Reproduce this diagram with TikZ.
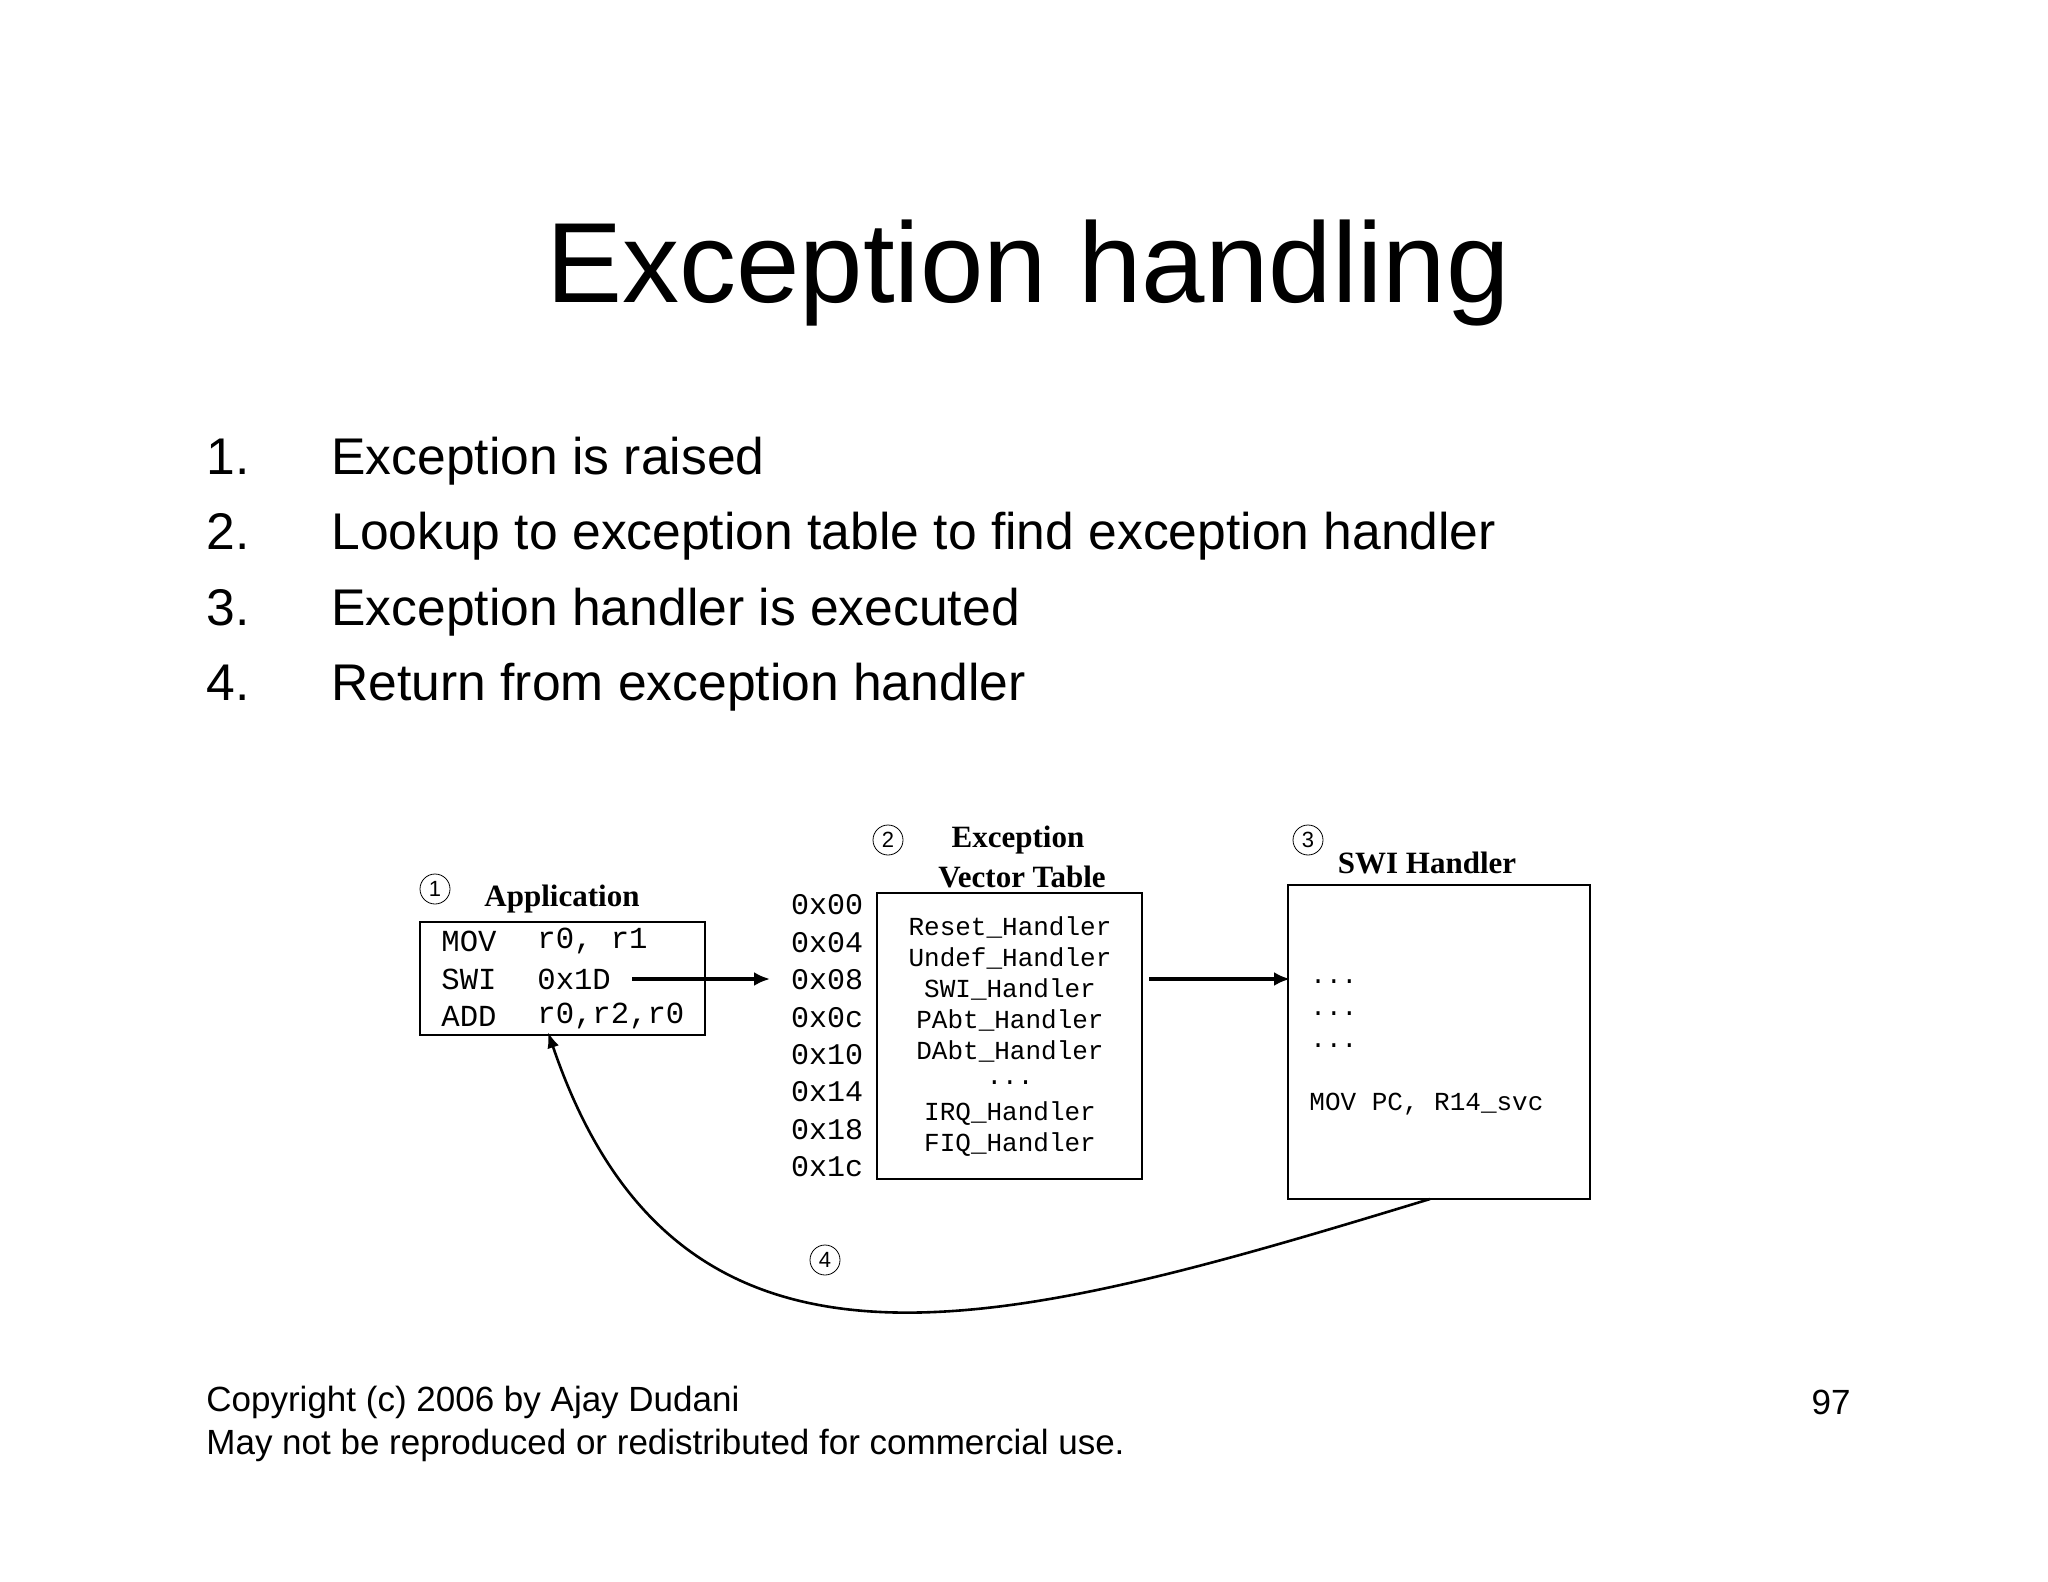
\documentclass[tikz,border=0pt]{standalone}
\usepackage{fontspec}
\setmainfont{Liberation Sans}
\newfontfamily\tms{Liberation Serif}
\newfontfamily\crr{Liberation Mono}
\usetikzlibrary{arrows.meta}
\begin{document}
\begin{tikzpicture}[x=0.5pt,y=-0.5pt,
  box/.style={draw,line width=1.2pt},
  lbl/.style={font=\tms\bfseries\fontsize{15.5}{17}\selectfont},
  code/.style={font=\crr\fontsize{15.3}{17}\selectfont,anchor=west,inner sep=0},
  small/.style={font=\crr\fontsize{13}{15}\selectfont,inner sep=0},
  num/.style={draw,circle,line width=0.4pt,inner sep=0,minimum size=15pt,font=\fontsize{11}{12}\selectfont},
  arr/.style={line width=1.8pt,-{Latex[length=8pt,width=7pt]}}]
\useasboundingbox (0,0) rectangle (2048,1582);
\node (title) at (1028,273) {\fontsize{57}{68}\selectfont Exception handling};
\foreach \n/\t [count=\i] in {1/Exception is raised,2/Lookup to exception table to find exception handler,3/Exception handler is executed,4/Return from exception handler}{
  \node[anchor=base west,inner sep=0,font=\fontsize{25.8}{30}\selectfont] (n\i) at (206,400+75*\i) {\n.};
  \node[anchor=base west,inner sep=0,font=\fontsize{25.8}{30}\selectfont] (t\i) at (331,400+75*\i) {\t};
}
% application
\draw[box] (420,922) rectangle (705,1035);
\coordinate (appbot) at (548,1032);
\node[num] (c1) at (435,889) {1};
\node[lbl] (applbl) at (562,899) {Application};
\node[code] (a1) at (441,941) {MOV};\node[code] (a1b) at (537,941) {r0, r1};
\node[code] (a2) at (441,979) {SWI};\node[code] (a2b) at (537,979) {0x1D};
\node[code] (a3) at (441,1016) {ADD};\node[code] (a3b) at (537,1016) {r0,r2,r0};
% vector table
\draw[box] (877,893) rectangle (1142,1179);
\node[num] (c2) at (888,840) {2};
\node[lbl] (vt1) at (1018,840) {Exception};
\node[lbl] (vt2) at (1022,877) {Vector Table};
\foreach \a [count=\i from 0] in {0x00,0x04,0x08,0x0c,0x10,0x14,0x18,0x1c}
  \node[font=\crr\fontsize{15}{17}\selectfont,inner sep=0] (ad\i) at (827,905+37.4*\i) {\a};
\foreach \h [count=\i from 0] in {Reset\_Handler,Undef\_Handler,SWI\_Handler,PAbt\_Handler,DAbt\_Handler,{{...}},IRQ\_Handler,FIQ\_Handler}
  \node[small] (h\i) at (1010,927+31.1*\i) {\h};
% SWI handler
\draw[box] (1288,885) rectangle (1590,1199);
\coordinate (swibot) at (1430,1199);
\node[num] (c3) at (1308,840) {3};
\node[lbl] (swilbl) at (1427,863) {SWI Handler};
\foreach \y [count=\i] in {982,1014,1046} \node[small,anchor=west] (d\i) at (1310,\y) {{...}};
\node[small,anchor=west] (mvpc) at (1309,1104) {MOV PC, R14\_svc};
% arrows
\coordinate (s1) at (632,979);\coordinate (e1) at (770,979);
\coordinate (s2) at (1149,979);\coordinate (e2) at (1290,979);
\draw[arr] (s1) -- (e1);
\draw[arr] (s2) -- (e2);
\draw[line width=1.3pt,-{Latex[length=8pt,width=6pt]}] (swibot) .. controls (1000,1330) and (680,1420) .. (appbot);
\node[num] (c4) at (825,1260) {4};
% footer
\node[anchor=west,inner sep=0,font=\fontsize{17.5}{20}\selectfont] (f1) at (206,1402) {Copyright (c) 2006 by Ajay Dudani};
\node[anchor=west,inner sep=0,font=\fontsize{17.5}{20}\selectfont] (f2) at (206,1445) {May not be reproduced or redistributed for commercial use.};
\node[anchor=east,inner sep=0,font=\fontsize{17.5}{20}\selectfont] (pg) at (1851,1402) {97};
\end{tikzpicture}
\end{document}
